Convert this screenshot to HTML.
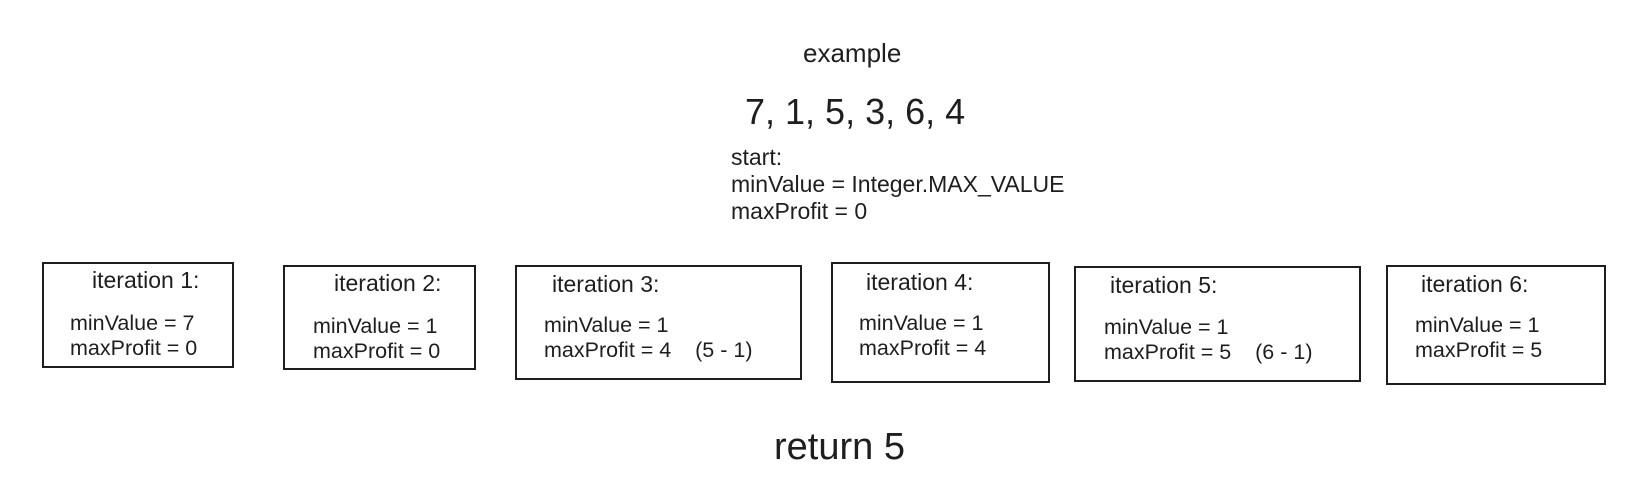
<!DOCTYPE html>
<html><head><style>
body{margin:0;width:1645px;height:494px;background:#fff;position:relative;font-family:"Liberation Sans",sans-serif;color:#1e1e1e;overflow:hidden}
.t{position:absolute;white-space:pre;line-height:1}
.b{position:absolute;border:2px solid #1e1e1e;box-sizing:border-box}
.s{font-size:23px}
.v{font-size:21.5px;line-height:25px}
</style></head><body>
<div class="t" style="left:803px;top:40px;font-size:26px">example</div>
<div class="t" style="left:745px;top:94px;font-size:36px">7, 1, 5, 3, 6, 4</div>
<div class="t" style="left:731px;top:144px;line-height:27px;font-size:23px">start:
minValue = Integer.MAX_VALUE
maxProfit = 0</div>

<div class="b" style="left:42px;top:262px;width:192px;height:106px"></div>
<div class="t s" style="left:92px;top:269px">iteration 1:</div>
<div class="t v" style="left:70px;top:311px">minValue = 7
maxProfit = 0</div>

<div class="b" style="left:283px;top:265px;width:193px;height:105px"></div>
<div class="t s" style="left:334px;top:272px">iteration 2:</div>
<div class="t v" style="left:313px;top:314px">minValue = 1
maxProfit = 0</div>

<div class="b" style="left:515px;top:265px;width:287px;height:115px"></div>
<div class="t s" style="left:552px;top:273px">iteration 3:</div>
<div class="t v" style="left:544px;top:313px">minValue = 1
maxProfit = 4    (5 - 1)</div>

<div class="b" style="left:831px;top:262px;width:219px;height:121px"></div>
<div class="t s" style="left:866px;top:271px">iteration 4:</div>
<div class="t v" style="left:859px;top:311px">minValue = 1
maxProfit = 4</div>

<div class="b" style="left:1074px;top:266px;width:287px;height:116px"></div>
<div class="t s" style="left:1110px;top:274px">iteration 5:</div>
<div class="t v" style="left:1104px;top:315px">minValue = 1
maxProfit = 5    (6 - 1)</div>

<div class="b" style="left:1386px;top:265px;width:220px;height:120px"></div>
<div class="t s" style="left:1421px;top:273px">iteration 6:</div>
<div class="t v" style="left:1415px;top:313px">minValue = 1
maxProfit = 5</div>

<div class="t" style="left:774px;top:428px;font-size:38px">return 5</div>
</body></html>
